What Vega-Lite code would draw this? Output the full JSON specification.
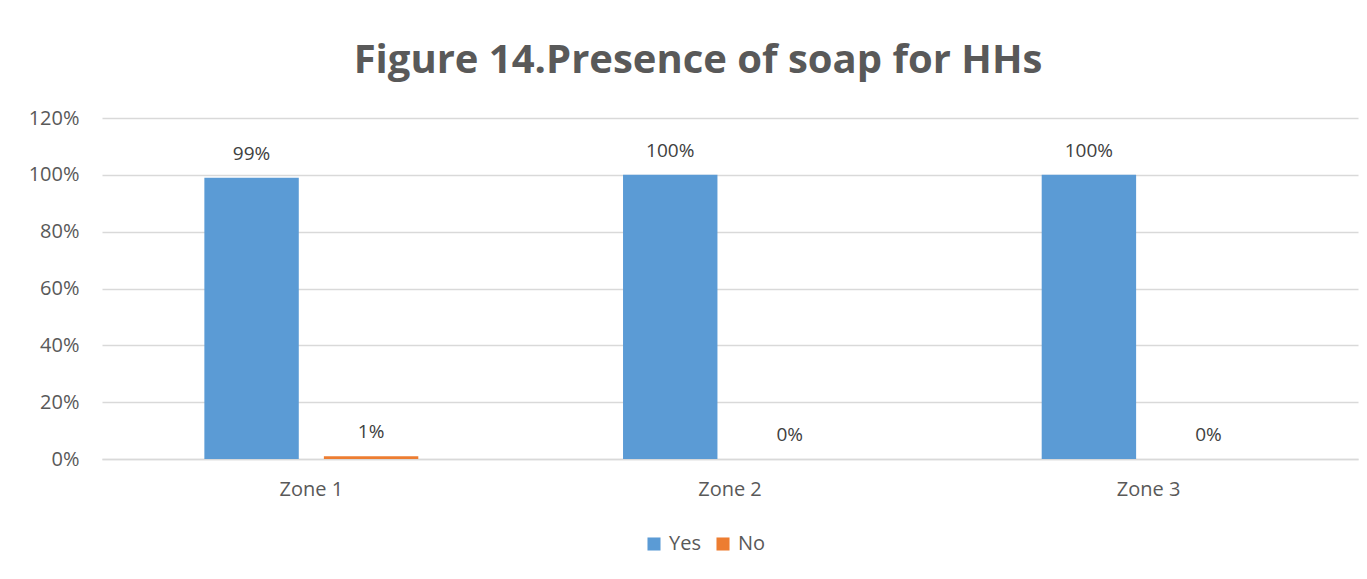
{
  "$schema": "https://vega.github.io/schema/vega-lite/v6.json",
  "autosize": {"type": "none"},
  "width": 1256,
  "height": 341,
  "padding": {"left": 102, "top": 118, "right": 9, "bottom": 120},
  "background": "white",
  "title": {
    "text": "Figure 14.Presence of soap for HHs",
    "font": "Open Sans",
    "fontSize": 40,
    "fontWeight": "bold",
    "color": "#595959",
    "anchor": "middle",
    "dx": -32,
    "offset": 27
  },
  "data": {
    "values": [
      {"zone": "Zone 1", "answer": "Yes", "value": 0.99},
      {"zone": "Zone 1", "answer": "No", "value": 0.01},
      {"zone": "Zone 2", "answer": "Yes", "value": 1.0},
      {"zone": "Zone 2", "answer": "No", "value": 0.0},
      {"zone": "Zone 3", "answer": "Yes", "value": 1.0},
      {"zone": "Zone 3", "answer": "No", "value": 0.0}
    ]
  },
  "encoding": {
    "x": {
      "field": "zone",
      "type": "nominal",
      "title": null,
      "scale": {"paddingInner": 0.489, "paddingOuter": 0.2445},
      "axis": {
        "labelAngle": 0,
        "labelFont": "Open Sans",
        "labelFontSize": 20,
        "labelColor": "#595959",
        "labelPadding": 20,
        "ticks": false,
        "domainColor": "#d9d9d9",
        "domainWidth": 1.5,
        "grid": false
      }
    },
    "xOffset": {
      "field": "answer",
      "type": "nominal",
      "sort": ["Yes", "No"],
      "scale": {"paddingInner": 0.21, "paddingOuter": 0}
    },
    "y": {
      "field": "value",
      "type": "quantitative",
      "title": null,
      "scale": {"domain": [0, 1.2], "nice": false},
      "axis": {
        "values": [0, 0.2, 0.4, 0.6, 0.8, 1.0, 1.2],
        "format": ".0%",
        "labelFont": "Open Sans",
        "labelFontSize": 20,
        "labelColor": "#595959",
        "labelPadding": 23,
        "ticks": false,
        "domain": false,
        "gridColor": "#d9d9d9",
        "gridWidth": 1.5
      }
    }
  },
  "layer": [
    {
      "mark": {"type": "bar"},
      "encoding": {
        "color": {
          "field": "answer",
          "type": "nominal",
          "sort": ["Yes", "No"],
          "scale": {"domain": ["Yes", "No"], "range": ["#5b9bd5", "#ed7d31"]},
          "legend": {
            "title": null,
            "orient": "none",
            "legendX": 542,
            "legendY": 416,
            "direction": "horizontal",
            "symbolType": "square",
            "symbolSize": 170,
            "symbolStrokeWidth": 0,
            "labelFont": "Open Sans",
            "labelFontSize": 20,
            "labelColor": "#595959",
            "columnPadding": 12,
            "labelOffset": 5
          }
        }
      }
    },
    {
      "mark": {
        "type": "text",
        "baseline": "alphabetic",
        "dy": -18,
        "font": "Open Sans",
        "fontSize": 19,
        "color": "#404040"
      },
      "encoding": {
        "text": {"field": "value", "type": "quantitative", "format": ".0%"}
      }
    }
  ],
  "config": {
    "view": {"stroke": null}
  }
}
